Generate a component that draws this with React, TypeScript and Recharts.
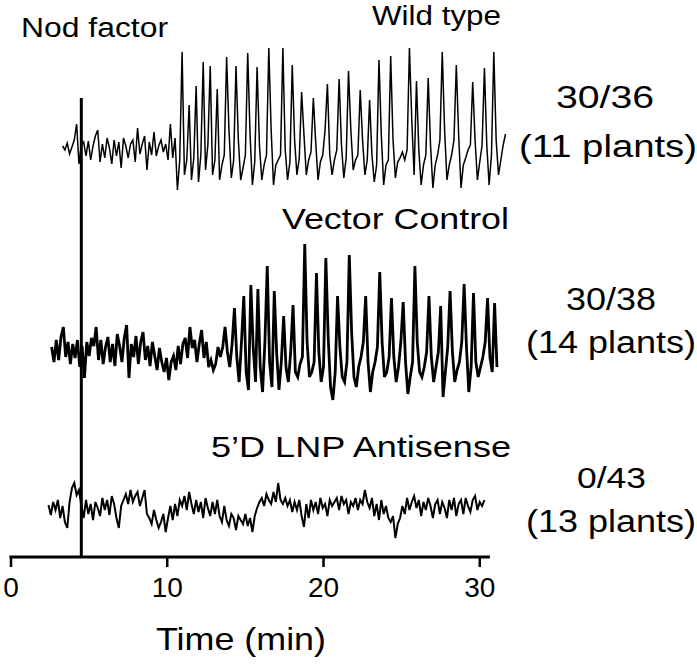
import React from "react";
import { LineChart, Line, XAxis, YAxis, ReferenceLine } from "recharts";

// sampling interval of the recordings (min)
const STEP = 0.15;
const WILD_TYPE_START = 3.3;
const VECTOR_START = 2.6;
const ANTISENSE_START = 2.4;
const NOD_FACTOR_TIME = 4.5;
const X_TICKS = [0, 10, 20, 30];

// traces, arbitrary units relative to each baseline
const wildType = [
  4, 0, 7, -4, 3, 10, 26, -14, 5, 8,
  -6, 9, -10, 4, 14, 20, -12, 6, -8, 12,
  2, -14, 10, -6, 8, -18, 12, 4, -8, 6,
  10, -12, 22, -4, 6, 14, -20, 8, -5, 18,
  -6, 4, 10, -2, 6, -10, 26, -8, 12, -40,
  -10, 98, -25, -10, 45, -30, -8, 64, -32, -5,
  88, -20, 5, 84, -25, -10, 61, -30, -15, -5,
  93, 20, -28, -10, 84, 10, -30, -18, -5, 97,
  15, -35, -12, 83, 5, -30, -15, -5, 102, 20,
  -35, -15, -10, -5, 102, 0, -30, -12, 85, 10,
  -25, -8, 58, 15, -25, -10, -2, 52, 8, -30,
  -12, -5, 20, 66, -5, -25, -10, 0, 71, 5,
  -28, -8, 79, 20, -20, -10, -5, 60, 10, -25,
  -10, 50, -5, -32, -15, 90, 15, -35, -15, -10,
  94, 10, -28, -12, -8, -2, -10, 0, 102, 30,
  -25, 69, 0, -35, -15, -5, 72, 5, -38, -15,
  -5, 10, 98, 20, -30, -15, -5, 10, 85, 15,
  -38, -15, -8, 0, 5, 68, 10, -30, -12, 5,
  82, 5, -35, -5, 98, 10, -25, -10, 5, 16,
];

const vectorControl = [
  5, -10, 12, -8, 15, 25, -5, 10, -12, 8,
  -6, 12, -15, 6, -26, 10, -4, 14, 6, 25,
  -8, 12, -12, 5, 15, -10, 8, -14, 18, 6,
  -10, 14, 27, -26, 8, -5, 16, -12, 10, 20,
  -8, 6, -14, 10, -4, -18, 4, -10, -20, -6,
  -28, -10, -4, -18, 6, -12, 8, 14, -6, 25,
  4, 12, -10, 8, 22, -6, 10, -15, -8, -18,
  -12, 5, -5, 5, 25, 0, -15, 8, 44, -5,
  -30, 10, 56, -20, -38, 67, 5, -30, 63, -15,
  -40, 10, 86, -10, -35, 61, 0, -38, -10, 36,
  -15, -30, 0, 47, -20, -25, -12, -5, 108, 10,
  -25, -20, -10, 79, 0, -30, -15, 94, 15, -35,
  -48, -20, 56, 5, -25, -30, -10, 97, 20, -25,
  -35, -15, -5, 10, 56, -10, -40, -20, -10, 5,
  80, 10, -25, -20, -5, 54, -5, -30, -15, 10,
  50, -10, -42, -25, -10, 86, 10, -20, -25, -15,
  0, 56, -5, -30, -15, 0, 46, -45, -20, 5,
  61, 0, -30, -18, -10, 10, 68, 5, -40, -15,
  59, -10, -25, -15, -5, 10, 54, -5, -20, 49,
  -15,
];

const antisense = [
  5, -5, 8, 0, 10, -8, 4, -12, -18, 8,
  22, 27, 15, 20, 5, -8, 10, -4, 6, -10,
  8, 2, -6, 12, 0, 10, -5, 14, 6, -8,
  -18, 4, 10, 16, 6, 20, 8, 14, 18, 4,
  12, 20, -4, -8, -14, 0, -10, -18, -12, -4,
  -22, -8, 4, -10, 6, -6, 10, 4, 14, 0,
  18, 6, -4, 10, -2, 8, -8, 12, 2, -6,
  8, -4, 10, -6, -12, 4, -10, -16, -4, -8,
  -20, -6, -10, -14, -4, -16, -8, -22, -6, 2,
  8, 12, 4, 16, 10, 6, 18, 8, 27, 10,
  6, 12, 4, 10, -2, 8, 0, 10, -6, -17,
  6, -8, 10, 0, 8, -4, 12, 2, 6, -6,
  10, 4, 8, 12, 0, 14, 6, 10, -4, 8,
  4, 12, 0, 10, 6, 20, 8, 2, 12, -6,
  6, -10, 10, -4, 4, -8, -12, -6, -28, -14,
  -8, 4, -4, 12, 0, 8, 14, 2, 10, -6,
  8, 0, 12, 4, -8, 6, 10, -4, 8, 2,
  -8, 10, 0, 12, -6, 6, 10, -4, 12, 4,
  -2, 10, 14, 0, 8, 4, 10,
];

// vertical stacking of the three traces
const OFFSETS = { wild: 407, vector: 205, antisense: 47 };
const NOD_LINE_TOP = 459;

const FONT = '"Liberation Sans", Arial, Helvetica, sans-serif';

function toSeries(start: number, values: number[], offset: number) {
  return values.map((v, i) => ({ t: +(start + i * STEP).toFixed(3), v: v + offset }));
}

const labels = [
  { text: "Nod factor", x: 21, y: 37, size: 27, len: 147 },
  { text: "Wild type", x: 372, y: 25, size: 27, len: 129 },
  { text: "30/36", x: 556, y: 108, size: 31, len: 98 },
  { text: "(11 plants)", x: 519, y: 157, size: 31, len: 178 },
  { text: "Vector Control", x: 282, y: 229, size: 29, len: 227 },
  { text: "30/38", x: 566, y: 310, size: 31, len: 90 },
  { text: "(14 plants)", x: 526, y: 353, size: 31, len: 170 },
  { text: "5\u2019D LNP Antisense", x: 211, y: 457, size: 29, len: 300 },
  { text: "0/43", x: 577, y: 488, size: 29, len: 69 },
  { text: "(13 plants)", x: 526, y: 532, size: 31, len: 170 },
  { text: "Time (min)", x: 156, y: 650, size: 32, len: 170 },
];

export default function App() {
  const wt = toSeries(WILD_TYPE_START, wildType, OFFSETS.wild);
  const vc = toSeries(VECTOR_START, vectorControl, OFFSETS.vector);
  const as = toSeries(ANTISENSE_START, antisense, OFFSETS.antisense);

  return (
    <div style={{ position: "absolute", left: 0, top: 0, width: 697, height: 664, background: "#fff" }}>
      <LineChart width={697} height={664} margin={{ top: 0, right: 186, bottom: 0, left: 11 }}>
        <XAxis
          type="number"
          dataKey="t"
          domain={[0, 32]}
          ticks={X_TICKS}
          interval={0}
          axisLine={false}
          tickLine={{ stroke: "#000", strokeWidth: 2.5 }}
          tickSize={10}
          tickMargin={10}
          height={107}
          tick={{ fill: "#000", fontSize: 28, fontFamily: FONT }}
        />
        <YAxis hide type="number" domain={[0, 557]} />
        <ReferenceLine
          segment={[{ x: -0.1, y: 0 }, { x: 30.65, y: 0 }]}
          stroke="#000"
          strokeWidth={3}
          ifOverflow="visible"
        />
        <ReferenceLine
          segment={[{ x: NOD_FACTOR_TIME, y: 0 }, { x: NOD_FACTOR_TIME, y: NOD_LINE_TOP }]}
          stroke="#000"
          strokeWidth={3}
          ifOverflow="visible"
        />
        <Line data={wt} dataKey="v" type="linear" stroke="#000" strokeWidth={1.5} dot={false} isAnimationActive={false} />
        <Line data={vc} dataKey="v" type="linear" stroke="#000" strokeWidth={2.8} dot={false} isAnimationActive={false} />
        <Line data={as} dataKey="v" type="linear" stroke="#000" strokeWidth={2} dot={false} isAnimationActive={false} />
        {labels.map((l) => (
          <text
            key={l.text}
            x={l.x}
            y={l.y}
            fontSize={l.size}
            fontFamily={FONT}
            fill="#000"
            textLength={l.len}
            lengthAdjust="spacingAndGlyphs"
          >
            {l.text}
          </text>
        ))}
      </LineChart>
    </div>
  );
}
